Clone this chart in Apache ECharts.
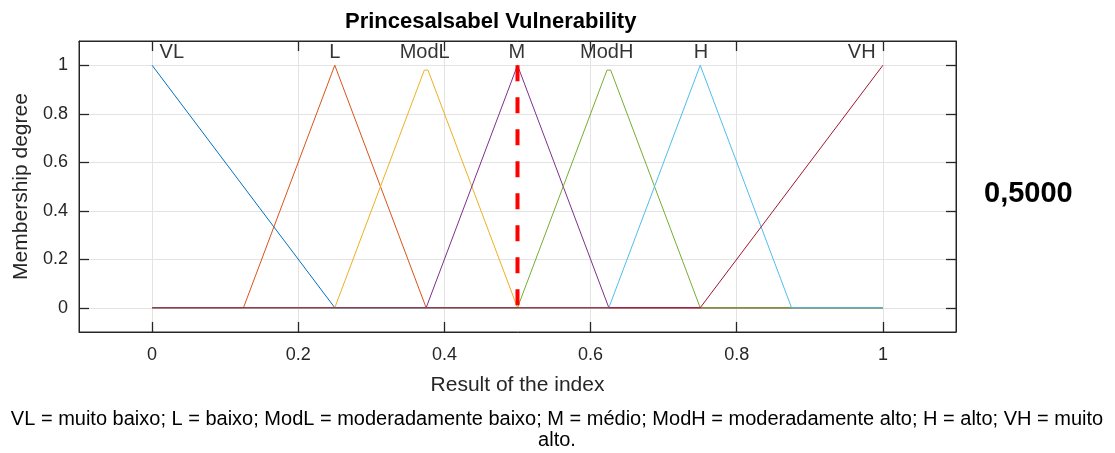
<!DOCTYPE html>
<html>
<head>
<meta charset="utf-8">
<script src="https://cdn.jsdelivr.net/npm/echarts@6/dist/echarts.min.js"></script>
<style>
  html, body { margin: 0; padding: 0; background: #fff; }
  #chart { width: 1115px; height: 453px; }
</style>
</head>
<body>
<div id="chart"></div>
<script>
// membership functions
const vlX = [0, 0.25, 1]
const vlY = [1, 0, 0]
const lX = [0, 0.125, 0.25, 0.375, 1]
const lY = [0, 0, 1, 0, 0]
const modlX = [0, 0.25, 0.3725, 0.3775, 0.5, 1]
const modlY = [0, 0, 0.98, 0.98, 0, 0]
const mX = [0, 0.375, 0.5, 0.625, 1]
const mY = [0, 0, 1, 0, 0]
const modhX = [0, 0.5, 0.6225, 0.6275, 0.75, 1]
const modhY = [0, 0, 0.98, 0.98, 0, 0]
const hX = [0, 0.625, 0.75, 0.875, 1]
const hY = [0, 0, 1, 0, 0]
const vhX = [0, 0.75, 1]
const vhY = [0, 0, 1]

const setNames = ['VL', 'L', 'ModL', 'M', 'ModH', 'H', 'VH']
const setLabelX = [0.027, 0.25, 0.373, 0.499, 0.622, 0.751, 0.971]
const setLabelY = 1.054

const resultX = [0.5, 0.5]
const resultY = [1, 0]
const resultText = '0,5000'

const tickValues = [0, 0.2, 0.4, 0.6, 0.8, 1]

const colors = ['#0072bd', '#d95319', '#edb120', '#7e2f8e', '#77ac30', '#4dbeee', '#a2142f']
const font = 'Liberation Sans, Arial, sans-serif'

function pts(xs, ys) {
  return xs.map((x, i) => [x, ys[i]])
}

const sets = [
  pts(vlX, vlY), pts(lX, lY), pts(modlX, modlY), pts(mX, mY),
  pts(modhX, modhY), pts(hX, hY), pts(vhX, vhY)
]

// labels + grid lines on the main axes, ticks on separate tick-only axes
const mainAxis = {
  type: 'value',
  min: -0.1,
  max: 1.1,
  axisLine: { show: false, onZero: false },
  axisTick: { show: false, customValues: tickValues },
  axisLabel: { customValues: tickValues, color: '#262626', fontSize: 18, fontFamily: font, formatter: v => String(+v.toFixed(1)) },
  splitLine: { show: true, lineStyle: { color: '#e3e3e3', width: 1 } }
}

const tickAxis = {
  type: 'value',
  min: -0.1,
  max: 1.1,
  z: 10,
  axisLine: { show: true, onZero: false, lineStyle: { color: '#262626', width: 1 } },
  axisTick: { show: true, inside: true, length: 10, lineStyle: { color: '#262626', width: 1.3 }, customValues: tickValues },
  axisLabel: { show: false },
  splitLine: { show: false }
}

let series = sets.map((d, i) => ({
  type: 'line',
  data: d,
  symbol: 'none',
  silent: true,
  lineStyle: { color: colors[i], width: 1 },
  z: 2
}))

series.push({
  type: 'scatter',
  data: setNames.map((n, i) => ({ name: n, value: [setLabelX[i], setLabelY] })),
  symbolSize: 0,
  silent: true,
  label: {
    show: true,
    position: 'inside',
    formatter: p => p.name,
    color: '#000',
    fontSize: 20,
    fontFamily: font
  },
  z: 3
})

series.push({
  type: 'line',
  data: pts(resultX, resultY),
  symbol: 'none',
  silent: true,
  lineStyle: { color: '#ff0000', width: 4, type: [16, 16] },
  z: 4
})

const option = {
  animation: false,
  title: [
    {
      text: 'Princesalsabel Vulnerability',
      left: 340, top: 6,
      textStyle: { fontSize: 22, fontWeight: 'bold', color: '#000', fontFamily: font }
    },
    {
      text: resultText,
      left: 979, top: 174,
      textStyle: { fontSize: 29, fontWeight: 'bold', color: '#000', fontFamily: font }
    }
  ],
  graphic: [
    {
      type: 'text',
      x: 557,
      y: 409,
      style: {
        text: 'VL = muito baixo; L = baixo; ModL = moderadamente baixo; M = médio; ModH = moderadamente alto; H = alto; VH = muito\nalto.',
        align: 'center',
        fill: '#000',
        font: '20px ' + font,
        lineHeight: 21
      }
    }
  ],
  grid: {
    left: 79, right: 159, top: 41, bottom: 121,
    show: true, borderColor: '#262626', borderWidth: 1, backgroundColor: 'transparent'
  },
  xAxis: [
    Object.assign({}, mainAxis, {
      position: 'bottom',
      name: 'Result of the index',
      nameLocation: 'middle',
      nameGap: 43,
      nameTextStyle: { fontSize: 21, color: '#262626', fontFamily: font },
      axisLabel: Object.assign({}, mainAxis.axisLabel, { margin: 14 })
    }),
    Object.assign({}, tickAxis, { position: 'bottom' }),
    Object.assign({}, tickAxis, { position: 'top' })
  ],
  yAxis: [
    Object.assign({}, mainAxis, {
      position: 'left',
      name: 'Membership degree',
      nameLocation: 'middle',
      nameGap: 44,
      nameTextStyle: { fontSize: 21, color: '#262626', fontFamily: font },
      axisLabel: Object.assign({}, mainAxis.axisLabel, { margin: 11 })
    }),
    Object.assign({}, tickAxis, { position: 'left' }),
    Object.assign({}, tickAxis, { position: 'right' })
  ],
  series: series
}

const chart = echarts.init(document.getElementById('chart'))
chart.setOption(option)
</script>
</body>
</html>
